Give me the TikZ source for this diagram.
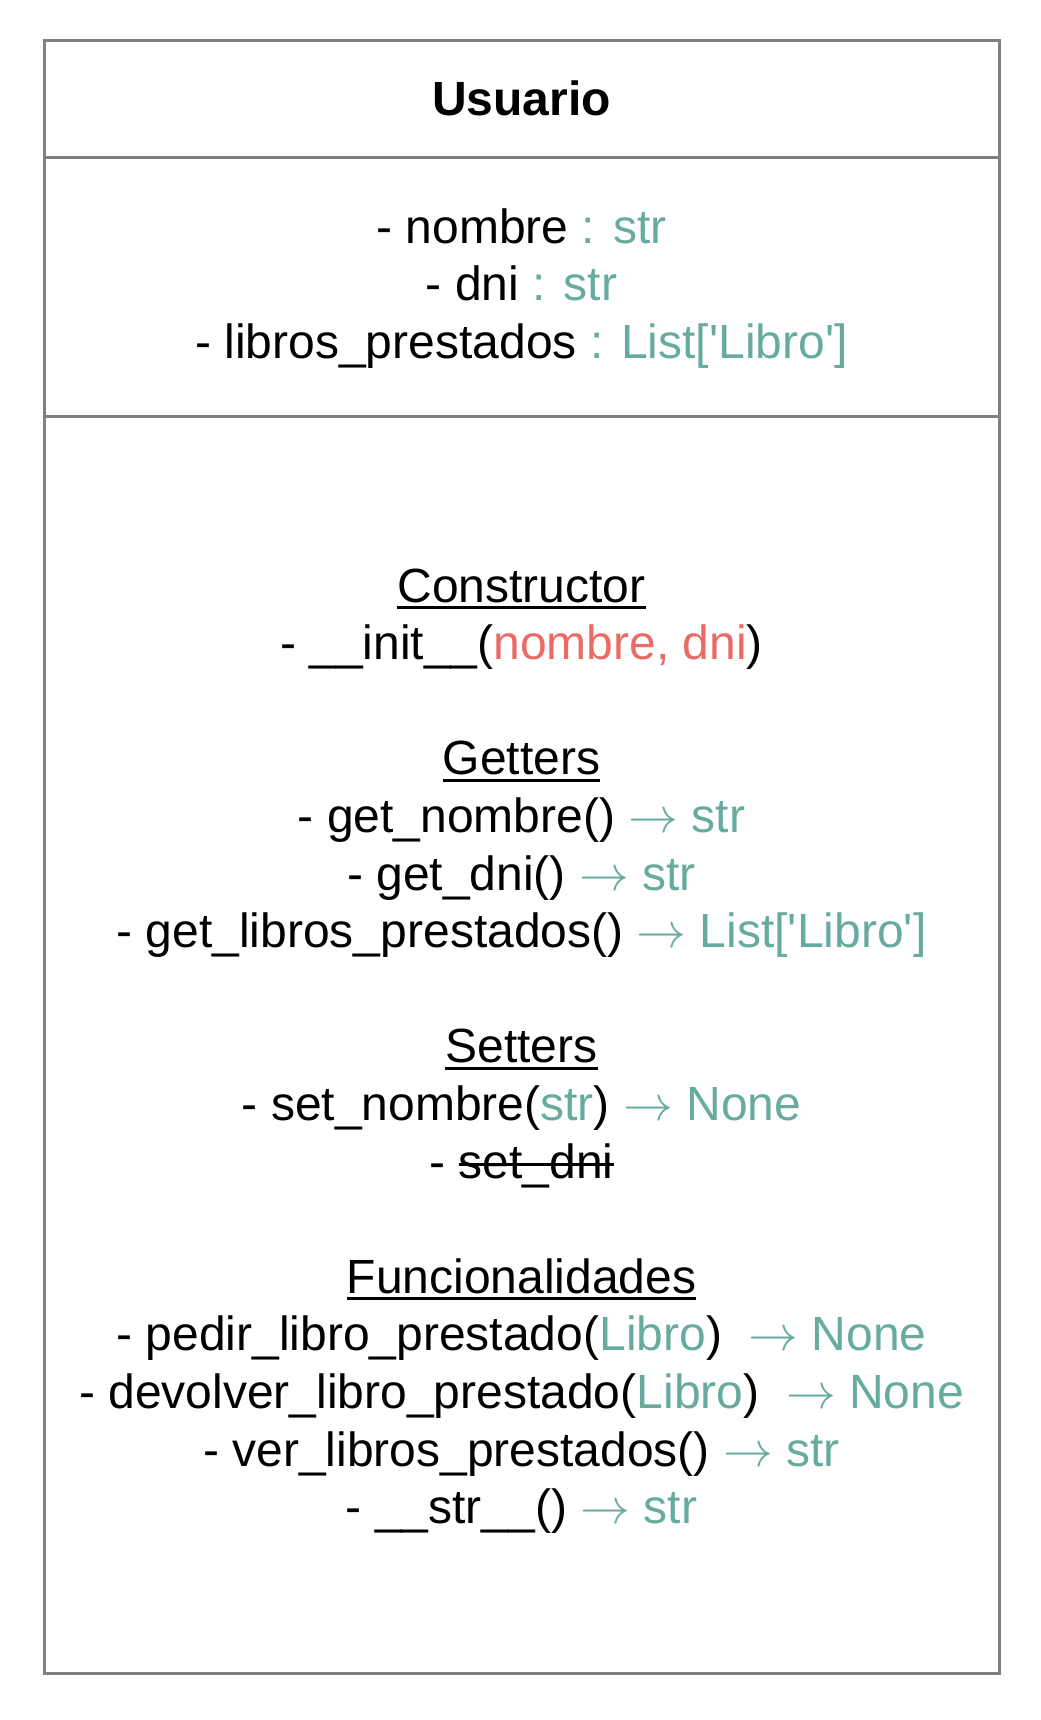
\documentclass[tikz,border=0pt]{standalone}
\usepackage{fontspec}
\setmainfont{Liberation Sans}
\definecolor{grn}{HTML}{67AB9F}
\definecolor{rd}{HTML}{EA6B66}
\definecolor{bordergray}{HTML}{808080}
\newcommand{\sq}{\textquotesingle}
\newcommand{\arr}{$\rightarrow$}
\newsavebox{\mylinebox}
\newcommand{\ulin}[1]{\sbox{\mylinebox}{#1}\rlap{\rule[-3.3pt]{\wd\mylinebox}{1.5pt}}\usebox{\mylinebox}}
\newcommand{\strk}[1]{\sbox{\mylinebox}{#1}\rlap{\rule[\dimexpr0.55ex-0.75pt\relax]{\wd\mylinebox}{1.5pt}}\usebox{\mylinebox}}
\tikzset{
  compart/.style={draw=bordergray, line width=1.5pt, rectangle, inner sep=0pt, outer sep=0pt,
    minimum width=477.5pt, anchor=north},
  txt/.style={align=center, inner sep=0pt, font=\fontsize{24pt}{28.8pt}\selectfont}
}
\begin{document}
\begin{tikzpicture}[x=1pt,y=1pt]
\useasboundingbox (0,0) rectangle (520,-860);
\node[compart, minimum height=58.25pt] (head) at (260.75,-20.25) {};
\node[compart, minimum height=129.5pt] (attrs) at (head.south) {};
\node[compart, minimum height=628.5pt] (meths) at (attrs.south) {};
\node[txt] (headtxt) at (head.center) {\textbf{Usuario}};
\node[txt, yshift=-1pt] (attrtxt) at (attrs.center) {%
- nombre \textcolor{grn}{: str}\\
- dni \textcolor{grn}{: str}\\
- libros\_prestados \textcolor{grn}{: List[\sq Libro\sq]}};
\node[txt, yshift=-3.3pt] (methtxt) at (meths.center) {%
\ulin{Constructor}\\
- \_\_init\_\_(\textcolor{rd}{nombre, dni})\\
~\\
\ulin{Getters}\\
- get\_nombre() \textcolor{grn}{\arr{} str}\\
- get\_dni() \textcolor{grn}{\arr{} str}\\
- get\_libros\_prestados() \textcolor{grn}{\arr{} List[\sq Libro\sq]}\\
~\\
\ulin{Setters}\\
- set\_nombre(\textcolor{grn}{str}) \textcolor{grn}{\arr{} None}\\
- \strk{set\_dni}\\
~\\
\ulin{Funcionalidades}\\
- pedir\_libro\_prestado(\textcolor{grn}{Libro})\ \ \textcolor{grn}{\arr{} None}\\
- devolver\_libro\_prestado(\textcolor{grn}{Libro})\ \ \textcolor{grn}{\arr{} None}\\
- ver\_libros\_prestados() \textcolor{grn}{\arr{} str}\\
- \_\_str\_\_() \textcolor{grn}{\arr{} str}};
\end{tikzpicture}
\end{document}
